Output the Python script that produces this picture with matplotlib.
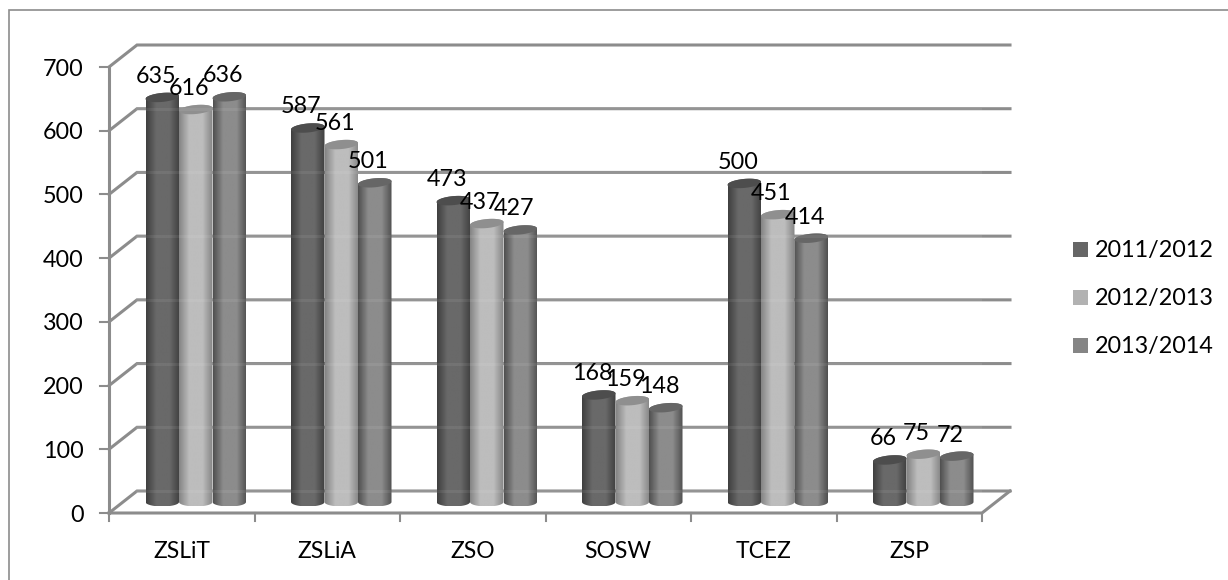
import numpy as np
import matplotlib
matplotlib.use('Agg')
import matplotlib.pyplot as plt
from matplotlib.colors import LinearSegmentedColormap
from matplotlib.lines import Line2D
from matplotlib.patches import Polygon, Rectangle

plt.rcParams['font.family'] = ['Lato', 'DejaVu Sans']

categories = ['ZSLiT', 'ZSLiA', 'ZSO', 'SOSW', 'TCEZ', 'ZSP']
seasons = ['2011/2012', '2012/2013', '2013/2014']
v2011 = [635, 587, 473, 168, 500, 66]
v2012 = [616, 561, 437, 159, 451, 75]
v2013 = [636, 501, 427, 148, 414, 72]
yticks = [0, 100, 200, 300, 400, 500, 600, 700]

W, H = 1228, 580
GRID = '#8c8c8c'
# edge, middle, top ellipse, legend swatch
shades = [('#3f3f3f', '#696969', '#4d4d4d', '#666666'),
          ('#858585', '#bdbdbd', '#8f8f8f', '#b2b2b2'),
          ('#505050', '#8c8c8c', '#666666', '#858585')]

fig = plt.figure(figsize=(W / 100, H / 100), dpi=100)
# front plane of the 3d box: x 109..982, y 513..67 px
ax = fig.add_axes([109 / W, 1 - 513 / H, 873 / W, 446 / H])
ax.axis('off')

px = 6 / 873      # data units per pixel
py = 700 / 446
dx, dy = 28 * px, 22 * py


def cylinder(x0, x1, val, col, z):
    rx = (x1 - x0) / 2
    ry = 4.5 * py
    tilt = 1.5 * py
    xc = (x0 + x1) / 2
    t = np.linspace(0, np.pi, 40)
    top_x = xc + rx * np.cos(t)
    top_y = val + dy / 2 + ry * np.sin(t) + tilt * np.cos(t)
    bot_y = dy / 2 - ry * np.sin(t)
    outline = np.r_[np.c_[top_x, top_y], np.c_[top_x[::-1], bot_y[::-1]]]
    cmap = LinearSegmentedColormap.from_list(
        'c', [(0, col[0]), (0.3, col[1]), (0.7, col[1]), (1, col[0])])
    im = ax.imshow(np.linspace(0, 1, 64)[None, :], extent=(x0, x1, bot_y.min(), top_y.max()),
                   cmap=cmap, aspect='auto', zorder=z, interpolation='bilinear')
    im.set_clip_path(Polygon(outline, transform=ax.transData))
    t2 = np.linspace(0, 2 * np.pi, 60)
    cap_x = xc + rx * np.cos(t2)
    cap_y = val + dy / 2 + ry * np.sin(t2) + tilt * np.cos(t2)
    ax.add_patch(Polygon(np.c_[cap_x, cap_y], closed=True, fc=col[2], ec='none', zorder=z + 0.1))


# walls
for v in yticks:
    ax.plot([0, dx, 6 + dx], [v, v + dy, v + dy], color=GRID, lw=2.2, clip_on=False,
            solid_joinstyle='miter', zorder=1)
    ax.plot([-9 * px, 0], [v, v], color=GRID, lw=1.5, clip_on=False, zorder=1)
ax.plot([0, 6, 6 + dx], [0, 0, dy], color=GRID, lw=2.2, clip_on=False, zorder=1)
ax.plot([0, 0], [0, 700], color=GRID, lw=2.2, clip_on=False, zorder=1)
for i in range(7):
    ax.plot([i, i], [0, -8 * py], color=GRID, lw=1.5, clip_on=False, zorder=1)

series = [v2011, v2012, v2013]
bw = 33.5 * px
for c in range(len(categories)):
    xc = c + 0.5 + 14 * px
    for s in [0, 2, 1]:
        x0 = xc + (s - 1.5) * bw
        cylinder(x0, x0 + bw, series[s][c], shades[s], 3 + s)
ax.set_xlim(0, 6)
ax.set_ylim(0, 700)

# gridlines show faintly through the cylinders
for v in yticks:
    ax.plot([dx, 6 + dx], [v + dy, v + dy], color='white', alpha=0.07, lw=2.2, zorder=5.5)

for c in range(len(categories)):
    xc = c + 0.5 + 14 * px
    for s in range(3):
        x = xc + (s - 1) * bw - 6.5 * px
        ax.text(x, series[s][c] + dy / 2 + 21 * py, str(series[s][c]), ha='center', va='center',
                fontsize=16.8, color='black', zorder=6, clip_on=False)

for v in yticks:
    ax.text(-25 * px, v - 2 * py, str(v), ha='right', va='center', fontsize=16.8, color='black')
for i, name in enumerate(categories):
    ax.text(i + 0.5, -38 * py, name, ha='center', va='center', fontsize=16.5, color='black')

# legend in figure pixels
for i, name in enumerate(seasons):
    y = 249 + i * 48
    fig.add_artist(Rectangle((1073 / W, 1 - (y + 7.5) / H), 15 / W, 15 / H, fc=shades[i][3], ec='none',
                             transform=fig.transFigure))
    fig.text(1095 / W, 1 - (y + 1.5) / H, name, ha='left', va='center', fontsize=16.8, color='black')

# chart frame, only left and top are inside the picture
fig.add_artist(Line2D([9 / W, 9 / W, 1], [0, 1 - 9.5 / H, 1 - 9.5 / H], color='#8c8c8c', lw=1.2,
                      solid_joinstyle='miter', transform=fig.transFigure))

fig.savefig('out.png', dpi=100)
